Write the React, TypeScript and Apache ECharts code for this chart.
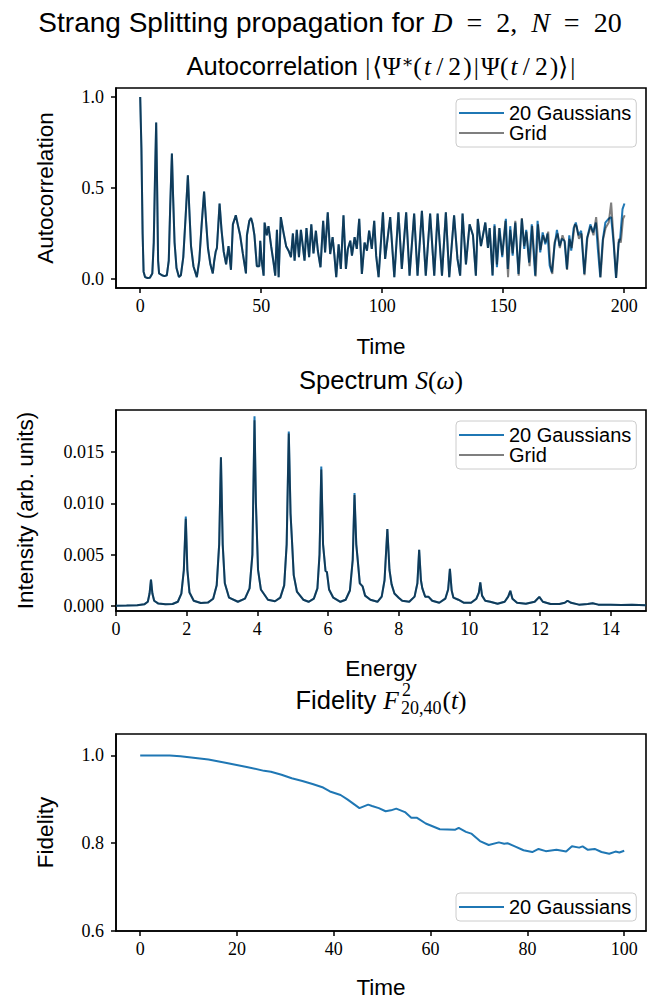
import React, { useEffect, useRef } from "react";
import * as echarts from "echarts";

const SANS = "'Liberation Sans', 'DejaVu Sans', sans-serif";
const SERIF = "'Liberation Serif', 'DejaVu Serif', serif";

// tick values
const autoTicksX = [0, 50, 100, 150, 200];
const autoTicksY = [0, 0.5, 1.0];
const specTicksX = [0, 2, 4, 6, 8, 10, 12, 14];
const specTicksY = [0, 0.005, 0.01, 0.015];
const fidTicksX = [0, 20, 40, 60, 80, 100];
const fidTicksY = [0.6, 0.8, 1.0];

const seriesNames = ["20 Gaussians", "Grid"];

// Autocorrelation, 20 Gaussians: [time, value]
const autoGauss: [number, number][] = [
  [0, 1.0], [0.5, 0.72], [1.0, 0.25], [1.4, 0.04], [2, 0.01], [3, 0.005], [4, 0.006], [5, 0.03],
  [5.6, 0.2], [6.1, 0.55], [6.6, 0.86], [7.0, 0.5], [7.4, 0.1], [7.8, 0.03], [9, 0.02], [10, 0.015],
  [11, 0.02], [11.8, 0.1], [12.4, 0.4], [13.1, 0.69], [13.6, 0.45], [14.2, 0.2], [15, 0.06], [16, 0.01],
  [16.8, 0.02], [17.8, 0.12], [18.8, 0.35], [19.7, 0.57], [20.3, 0.38], [21, 0.18], [22, 0.07], [23.4, 0.01],
  [24.4, 0.1], [25.4, 0.3], [26.4, 0.48], [27.2, 0.32], [28, 0.17], [29, 0.08], [30, 0.03], [30.6, 0.1],
  [31.2, 0.15], [31.7, 0.17], [32.8, 0.415], [33.6, 0.27], [34.5, 0.15], [35.5, 0.08], [36.5, 0.18],
  [37.5, 0.05], [38.3, 0.3], [39.5, 0.35], [40.3, 0.3], [41.3, 0.24], [42.4, 0.14], [43.7, 0.03],
  [44.1, 0.24], [45.1, 0.32], [45.8, 0.335], [46.5, 0.3], [47.2, 0.24], [48.2, 0.07], [49.2, 0.07],
  [49.6, 0.21], [50.2, 0.1], [51, 0.018], [51.4, 0.31], [52.3, 0.24], [53, 0.29], [54.1, 0.18],
  [55.1, 0.09], [55.8, 0.018], [56.5, 0.27], [57.2, 0.01], [58.1, 0.34], [59.2, 0.256], [60.3, 0.18],
  [61.3, 0.155], [62.3, 0.12], [63.1, 0.25], [63.8, 0.1], [64.7, 0.27], [65.6, 0.12], [66.4, 0.27],
  [67.2, 0.18], [67.9, 0.1], [68.7, 0.28], [69.8, 0.12], [70.7, 0.3], [71.6, 0.14], [72.6, 0.265],
  [73.4, 0.155], [74.5, 0.064], [75.6, 0.32], [76.4, 0.146], [77.5, 0.366], [78.5, 0.137], [79.5, 0.23],
  [80.2, 0.137], [81, 0.01], [82, 0.19], [82.9, 0.055], [84, 0.35], [85, 0.055], [85.8, 0.165],
  [86.8, 0.21], [87.5, 0.128], [88.6, 0.23], [89.5, 0.165], [90.5, 0.33], [91.6, 0.027], [92.7, 0.2],
  [93.7, 0.155], [94.6, 0.265], [95.7, 0.165], [96.7, 0.32], [97.5, 0.128], [98.5, 0.01], [100.3, 0.366],
  [101.2, 0.11], [103.3, 0.34], [105, 0.01], [106.7, 0.366], [108.1, 0.055], [109.9, 0.366], [111.3, 0.018],
  [113.2, 0.36], [114.6, 0.018], [116.4, 0.375], [118, 0.018], [119.8, 0.36], [121.5, 0.018], [122.9, 0.36],
  [124.7, 0.018], [126.3, 0.366], [127.7, 0.01], [129.7, 0.35], [131.1, 0.11], [132.2, 0.018], [133.2, 0.36],
  [134.6, 0.08], [136.1, 0.3], [137.5, 0.24], [138.7, 0.018], [139.5, 0.33], [140.8, 0.18], [142.6, 0.31],
  [143.7, 0.17], [144.4, 0.28], [145.6, 0.018], [146.4, 0.3], [147.4, 0.064], [148.5, 0.28], [149.6, 0.12],
  [151.1, 0.33], [151.9, 0.055], [152.9, 0.29], [153.9, 0.128], [155, 0.31], [156.3, 0.027], [157.7, 0.33],
  [158.7, 0.165], [159.5, 0.27], [160.7, 0.09], [161.8, 0.3], [163.2, 0.018], [164.2, 0.32], [165.3, 0.146],
  [166.3, 0.256], [167.4, 0.19], [168.3, 0.25], [169.2, 0.073], [170.1, 0.036], [171.2, 0.18], [172.2, 0.27],
  [173.3, 0.18], [174.2, 0.22], [175.3, 0.21], [176.3, 0.055], [177.3, 0.24], [178.1, 0.155], [179.1, 0.28],
  [180, 0.31], [181.1, 0.24], [182.2, 0.265], [183.5, 0.027], [184.6, 0.22], [186, 0.3], [187.1, 0.256],
  [188.3, 0.31], [189.1, 0.165], [190.1, 0.01], [191.1, 0.21], [192.2, 0.31], [193.5, 0.33], [194.6, 0.34],
  [195.6, 0.2], [196.6, 0.005], [197.7, 0.2], [198.3, 0.22], [199.3, 0.384], [200.1, 0.415],
];

// Autocorrelation, Grid: after t≈145 it departs from the Gaussian curve
const autoGridLate: [number, number][] = [
  [145.6, 0.02], [146.4, 0.29], [147.4, 0.08], [148.3, 0.28], [149.6, 0.13], [150.9, 0.32], [152, 0.01],
  [152.9, 0.27], [153.9, 0.14], [155, 0.32], [156.4, 0.018], [157.7, 0.335], [158.7, 0.18], [159.6, 0.26],
  [160.9, 0.07], [162, 0.29], [163.4, 0.014], [164.4, 0.3], [165.4, 0.16], [166.5, 0.24], [167.5, 0.2],
  [168.6, 0.26], [169.4, 0.09], [170.3, 0.027], [171.2, 0.2], [172.5, 0.25], [173.4, 0.17], [174.5, 0.24],
  [175.5, 0.2], [176.4, 0.05], [177.4, 0.22], [178.3, 0.17], [179.6, 0.3], [180.3, 0.29], [181.3, 0.22],
  [182.4, 0.25], [183.6, 0.02], [184.8, 0.23], [186.2, 0.29], [187.3, 0.24], [188.4, 0.34], [189.3, 0.2],
  [190.2, 0.008], [191.3, 0.22], [192.3, 0.28], [193.6, 0.31], [194.6, 0.42], [195.7, 0.2], [196.7, 0.005],
  [197.8, 0.22], [198.6, 0.2], [199.5, 0.33], [200.2, 0.35],
];

// Spectrum, 20 Gaussians: [energy, intensity]
const specGauss: [number, number][] = [
  [0, 0.00002], [0.3, 0.00003], [0.6, 0.00006], [0.8, 0.00015], [0.9, 0.0004], [0.95, 0.0012], [0.99, 0.00255],
  [1.03, 0.0012], [1.08, 0.0005], [1.2, 0.00022], [1.4, 0.00015], [1.6, 0.00018], [1.75, 0.0004], [1.85, 0.0012],
  [1.92, 0.0035], [1.975, 0.0087], [2.02, 0.0035], [2.08, 0.0013], [2.2, 0.0005], [2.4, 0.00028], [2.6, 0.00032],
  [2.75, 0.0007], [2.85, 0.002], [2.92, 0.006], [2.97, 0.0145], [3.02, 0.006], [3.08, 0.0022], [3.2, 0.0008],
  [3.45, 0.0004], [3.65, 0.0007], [3.78, 0.0017], [3.86, 0.005], [3.92, 0.0185], [3.96, 0.01], [4.02, 0.0035],
  [4.1, 0.0016], [4.3, 0.0006], [4.5, 0.00045], [4.65, 0.0008], [4.76, 0.002], [4.83, 0.006], [4.89, 0.017],
  [4.94, 0.009], [4.98, 0.0064], [5.03, 0.003], [5.12, 0.0014], [5.3, 0.0006], [5.45, 0.0004], [5.6, 0.0007],
  [5.7, 0.0017], [5.76, 0.005], [5.81, 0.0136], [5.86, 0.006], [5.93, 0.0034], [5.97, 0.0033], [6.03, 0.0016],
  [6.15, 0.0008], [6.35, 0.0004], [6.5, 0.0006], [6.62, 0.0015], [6.7, 0.0045], [6.75, 0.011], [6.8, 0.006],
  [6.83, 0.0049], [6.9, 0.0022], [6.98, 0.0019], [7.05, 0.001], [7.2, 0.0006], [7.4, 0.0004], [7.52, 0.0009],
  [7.6, 0.0025], [7.68, 0.0075], [7.74, 0.0035], [7.8, 0.0021], [7.88, 0.0012], [8.0, 0.0008], [8.1, 0.0005],
  [8.3, 0.0004], [8.45, 0.0009], [8.53, 0.0022], [8.58, 0.00546], [8.63, 0.0025], [8.67, 0.0017], [8.75, 0.0009],
  [8.84, 0.0009], [8.95, 0.0005], [9.15, 0.0003], [9.32, 0.0007], [9.4, 0.0016], [9.45, 0.0036], [9.5, 0.0015],
  [9.55, 0.0008], [9.69, 0.0006], [9.85, 0.0003], [10.05, 0.0003], [10.2, 0.0007], [10.27, 0.0013], [10.31, 0.00229],
  [10.36, 0.001], [10.45, 0.0005], [10.59, 0.0004], [10.8, 0.0002], [11.0, 0.0004], [11.1, 0.0009], [11.16, 0.00147],
  [11.22, 0.0007], [11.35, 0.0003], [11.6, 0.0002], [11.85, 0.0004], [11.98, 0.00088], [12.08, 0.0004], [12.3, 0.00018],
  [12.55, 0.00018], [12.7, 0.0003], [12.78, 0.0005], [12.88, 0.0003], [13.1, 0.00012], [13.35, 0.00018], [13.49, 0.00026],
  [13.65, 0.00012], [14.0, 0.0001], [14.3, 0.00008], [14.6, 0.0001], [15, 0.00006],
];

// Spectrum, Grid: same curve, slightly lower at some peak tops
const specGridPeaks: Record<string, number> = {
  "3.92": 0.0181, "5.81": 0.0133, "1.975": 0.0085, "4.89": 0.0168, "6.75": 0.0108,
};

// Fidelity F^2_{20,40}(t): [time, value]
const fidelity: [number, number][] = [
  [0, 1.0], [6.1, 1.0], [8.3, 0.9985], [14.1, 0.991], [17.6, 0.9835], [22, 0.974], [25.6, 0.965], [27, 0.963],
  [29.2, 0.956], [31.3, 0.948], [33.5, 0.942], [35.6, 0.935], [37.8, 0.927], [39.2, 0.918], [41.4, 0.91],
  [42.8, 0.9], [45.3, 0.88], [47.1, 0.888], [47.9, 0.885], [49.3, 0.88], [50.7, 0.873], [51.8, 0.875],
  [52.9, 0.879], [54.7, 0.871], [56, 0.858], [57.2, 0.858], [59, 0.845], [61.9, 0.832], [65.1, 0.831],
  [65.8, 0.835], [67.3, 0.826], [68.4, 0.822], [70.2, 0.805], [72, 0.796], [74.1, 0.802], [75.2, 0.799],
  [75.9, 0.8], [77.4, 0.793], [79.2, 0.784], [81, 0.78], [82.3, 0.787], [83.8, 0.782], [86, 0.785], [88, 0.781],
  [89.2, 0.793], [90.7, 0.79], [91.4, 0.793], [92.5, 0.785], [93.9, 0.787], [95.3, 0.78], [96.9, 0.776],
  [98.2, 0.781], [99, 0.779], [100, 0.783],
];

const BLUE = "#1f77b4";
const GRIDC = "rgba(0,0,0,0.5)";

const G = [
  { left: 116, top: 88, width: 530, height: 200 },
  { left: 116, top: 410, width: 530, height: 201 },
  { left: 116, top: 734, width: 530, height: 202 },
];

function measure(text: string, font: string): number {
  const c = document.createElement("canvas").getContext("2d");
  if (!c) return text.length * 12;
  c.font = font;
  return c.measureText(text).width;
}

export default function App() {
  const ref = useRef<HTMLDivElement>(null);
  useEffect(() => {
    if (!ref.current) return;
    const chart = echarts.init(ref.current, undefined, { renderer: "svg" });

    const autoGrid = autoGauss.filter((p) => p[0] < 145).concat(autoGridLate);
    const specGrid = specGauss.map((p) => [p[0], specGridPeaks[String(p[0])] ?? p[1]]);

    const tick = { show: true, inside: false, length: 5, lineStyle: { color: "#000", width: 1.5 } };
    const axisCommon = {
      axisLine: { show: true, onZero: false, lineStyle: { color: "#000", width: 1.6 } },
      splitLine: { show: false },
    };
    const lbl = (vals: number[], dec: number, margin: number) => ({
      customValues: vals,
      margin,
      color: "#000",
      fontFamily: SERIF,
      fontSize: 18,
      formatter: (v: number) => v.toFixed(dec),
    });
    const AXF = 22.5;
    const xName = { nameLocation: "middle", nameTextStyle: { fontFamily: SANS, fontSize: AXF, color: "#000" } };
    const yName = { nameLocation: "middle", nameRotate: 90, nameTextStyle: { fontFamily: SANS, fontSize: AXF, color: "#000" } };

    const xAxes = [
      { gridIndex: 0, type: "value", position: "bottom", min: -10, max: 209, ...axisCommon, axisTick: { ...tick, customValues: autoTicksX }, axisLabel: lbl(autoTicksX, 0, 9), name: "Time", nameGap: 47, ...xName },
      { gridIndex: 1, type: "value", position: "bottom", min: 0, max: 15, ...axisCommon, axisTick: { ...tick, customValues: specTicksX }, axisLabel: lbl(specTicksX, 0, 9), name: "Energy", nameGap: 46, ...xName },
      { gridIndex: 2, type: "value", position: "bottom", min: -5, max: 104.5, ...axisCommon, axisTick: { ...tick, customValues: fidTicksX }, axisLabel: lbl(fidTicksX, 0, 9), name: "Time", nameGap: 45, ...xName },
    ];
    const yAxes = [
      { gridIndex: 0, type: "value", position: "left", min: -0.05, max: 1.05, ...axisCommon, axisTick: { ...tick, customValues: autoTicksY }, axisLabel: lbl(autoTicksY, 1, 12), name: "Autocorrelation", nameGap: 59, ...yName },
      { gridIndex: 1, type: "value", position: "left", min: -0.0005, max: 0.0191, ...axisCommon, axisTick: { ...tick, customValues: specTicksY }, axisLabel: lbl(specTicksY, 3, 12), name: "Intensity (arb. units)", nameGap: 79, ...yName },
      { gridIndex: 2, type: "value", position: "left", min: 0.6, max: 1.049, ...axisCommon, axisTick: { ...tick, customValues: fidTicksY }, axisLabel: lbl(fidTicksY, 1, 12), name: "Fidelity", nameGap: 59, ...yName },
    ];

    const line = (name: string, data: any, xi: number, color: string) => ({
      name,
      type: "line",
      xAxisIndex: xi,
      yAxisIndex: xi,
      data,
      showSymbol: false,
      symbol: "none",
      lineStyle: { color, width: 2 },
      itemStyle: { color },
      clip: true,
    });

    const legendBase = {
      orient: "vertical",
      left: 456,
      selectedMode: false,
      icon: "rect",
      itemWidth: 45,
      itemHeight: 2,
      itemGap: 0,
      padding: [4, 5, 4, 3],
      backgroundColor: "rgba(255,255,255,0.8)",
      borderColor: "#cccccc",
      borderWidth: 1,
      borderRadius: 4,
      textStyle: { fontFamily: SANS, fontSize: 20, color: "#000", lineHeight: 20 },
    };

    const titleFont = 28;
    const subFont = 25.5;
    const rich = (fs: number) => ({
      s: { fontFamily: SANS, fontSize: fs, fill: "#000" },
      m: { fontFamily: SERIF, fontSize: fs, fill: "#000" },
      i: { fontFamily: SERIF, fontStyle: "italic", fontSize: fs, fill: "#000" },
      sup: { fontFamily: SERIF, fontSize: Math.round(fs * 0.7), fill: "#000", verticalAlign: "top" },
    });

    // Fidelity title built piecewise (stacked super/subscript)
    const fA = `${subFont}px ${SANS}`;
    const fI = `italic ${subFont}px ${SERIF}`;
    const fS = `${Math.round(subFont * 0.7)}px ${SERIF}`;
    const fM = `${subFont}px ${SERIF}`;
    const wA = measure("Fidelity ", fA);
    const wF = measure("F", fI);
    const wSub = measure("20,40", fS);
    const wP1 = measure("(", fM);
    const wT = measure("t", fI);
    const wP2 = measure(")", fM);
    const total = wA + wF + 2 + wSub + 1 + wP1 + wT + wP2;
    const cx = G[2].left + G[2].width / 2;
    let x0 = cx - total / 2;
    const ty = 700;
    const fidTitle: any[] = [];
    const t = (text: string, x: number, y: number, font: string) => ({
      type: "text",
      x,
      y,
      style: { text, font, fill: "#000", align: "left", verticalAlign: "middle" },
    });
    fidTitle.push(t("Fidelity ", x0, ty, fA));
    x0 += wA;
    fidTitle.push(t("F", x0, ty, fI));
    x0 += wF + 2;
    fidTitle.push(t("2", x0 + 1, ty - 10, fS));
    fidTitle.push(t("20,40", x0, ty + 8, fS));
    x0 += wSub + 1;
    fidTitle.push(t("(", x0, ty, fM));
    x0 += wP1;
    fidTitle.push(t("t", x0, ty, fI));
    x0 += wT;
    fidTitle.push(t(")", x0, ty, fM));

    const TS = "\u2009";
    const HS = "\u200A";

    chart.setOption({
      animation: false,
      grid: G.map((g) => ({ ...g, show: true, borderColor: "#000", borderWidth: 1.6, backgroundColor: "transparent" })),
      xAxis: xAxes,
      yAxis: yAxes,
      legend: [
        { ...legendBase, top: 99, data: seriesNames },
        { ...legendBase, top: 421, data: seriesNames },
        { ...legendBase, top: 893, data: [seriesNames[0]] },
      ],
      series: [
        line(seriesNames[0], autoGauss, 0, BLUE),
        line(seriesNames[1], autoGrid, 0, GRIDC),
        line(seriesNames[0], specGauss, 1, BLUE),
        line(seriesNames[1], specGrid, 1, GRIDC),
        line(seriesNames[0], fidelity, 2, BLUE),
      ],
      graphic: [
        {
          type: "text",
          x: 330,
          y: 22,
          style: {
            text: "{s|Strang Splitting propagation for }{i|D}{m|  =  2,  }{i|N}{m|  =  20}",
            rich: rich(titleFont),
            align: "center",
            verticalAlign: "middle",
          },
        },
        {
          type: "text",
          x: G[0].left + G[0].width / 2,
          y: 66,
          style: {
            text:
              "{s|Autocorrelation }{m||" + HS + "⟨Ψ}{sup|∗}{m|(" + HS + "}{i|t}{m|" + TS + "/" + TS + "2" + HS + ")" + HS + "|" + HS + "Ψ(" + HS + "}{i|t}{m|" + TS + "/" + TS + "2" + HS + ")⟩" + HS + "|}",
            rich: rich(subFont),
            align: "center",
            verticalAlign: "middle",
          },
        },
        {
          type: "text",
          x: G[1].left + G[1].width / 2,
          y: 380,
          style: {
            text: "{s|Spectrum }{i|S}{m|(}{i|ω}{m|)}",
            rich: rich(subFont),
            align: "center",
            verticalAlign: "middle",
          },
        },
        ...fidTitle,
      ],
    });
    return () => chart.dispose();
  }, []);
  return <div ref={ref} style={{ position: "fixed", left: 0, top: 0, width: 647, height: 1000, background: "#fff" }} />;
}
